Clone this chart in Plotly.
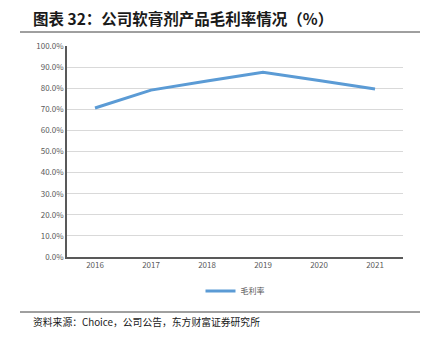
import plotly.graph_objects as go

years = ["2016", "2017", "2018", "2019", "2020", "2021"]
margin_rate = [70.6, 79.1, 83.4, 87.6, 83.6, 79.6]
y_ticks = [0, 10, 20, 30, 40, 50, 60, 70, 80, 90, 100]
y_tick_labels = ["0.0%", "10.0%", "20.0%", "30.0%", "40.0%", "50.0%", "60.0%", "70.0%", "80.0%", "90.0%", "100.0%"]

W, H = 425, 343
L, R, T, B = 67, 22, 46, 86
PH = H - T - B
PW = W - L - R


def py(pix):
    return (H - B - pix) / PH


def px(pix):
    return (pix - L) / PW


fig = go.Figure()
fig.add_trace(go.Scatter(
    x=years, y=margin_rate, mode="lines", name="毛利率",
    line=dict(color="#5B9BD5", width=3),
))

fig.update_layout(
    width=W, height=H,
    margin=dict(l=L, r=R, t=T, b=B),
    paper_bgcolor="white", plot_bgcolor="white",
    font=dict(family="Noto Sans CJK SC, sans-serif", color="#595959"),
    showlegend=True,
    legend=dict(orientation="h", x=0.5, xanchor="center", y=py(291), yanchor="middle",
                bgcolor="rgba(0,0,0,0)",
                font=dict(size=8, color="#595959")),
    xaxis=dict(
        type="category", range=[-0.5, 5.5], showgrid=False, showline=True,
        linecolor="#595959", linewidth=1.5,
        ticks="", tickfont=dict(size=8, color="#595959"), fixedrange=True,
    ),
    yaxis=dict(
        range=[0, 100], tickvals=y_ticks, ticktext=y_tick_labels,
        showgrid=True, gridcolor="#D9D9D9", gridwidth=1.2,
        showline=True, linecolor="#595959", linewidth=1.5,
        ticks="", tickfont=dict(size=8, color="#595959"), zeroline=False,
    ),
    shapes=[
        dict(type="line", xref="paper", yref="paper",
             x0=px(20), x1=px(420), y0=py(32), y1=py(32),
             line=dict(color="#404040", width=1)),
        dict(type="line", xref="paper", yref="paper",
             x0=px(20), x1=px(420), y0=py(312), y1=py(312),
             line=dict(color="#404040", width=1)),
    ],
    annotations=[
        dict(text="<b>图表 32：公司软膏剂产品毛利率情况（%）</b>", xref="paper", yref="paper",
             x=px(31), y=py(18), xanchor="left", yanchor="middle", showarrow=False,
             font=dict(size=15.5, color="#1a1a1a")),
        dict(text="资料来源：Choice，公司公告，东方财富证券研究所", xref="paper", yref="paper",
             x=px(31), y=py(322), xanchor="left", yanchor="middle", showarrow=False,
             font=dict(size=9.8, color="#1a1a1a")),
    ],
)

fig.write_html("out.html")
